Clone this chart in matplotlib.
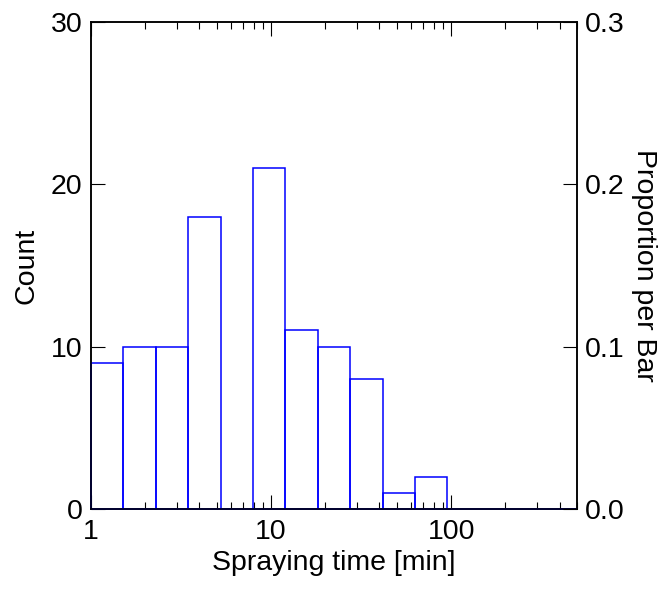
import numpy as np
import matplotlib
matplotlib.use("Agg")
import matplotlib.pyplot as plt
from matplotlib.ticker import LogLocator, FixedLocator, NullFormatter, FixedFormatter

plt.rcParams['font.family'] = ['Liberation Sans', 'DejaVu Sans']

# Histogram bin edges (15 log-spaced bins from 1 to 500 min)
bin_edges = [1.0, 1.513, 2.289, 3.466, 5.245, 7.937, 12.01, 18.18, 27.51,
             41.63, 63.00, 95.34, 144.3, 218.3, 330.4, 500.0]
counts = [9, 10, 10, 18, 0, 21, 11, 10, 8, 1, 2, 0, 0, 0, 0]
total = sum(counts)

x_ticks = [1, 10, 100]
x_ticklabels = ["1", "10", "100"]
y_ticks = [0, 10, 20, 30]
y2_ticks = [0.0, 0.1, 0.2, 0.3]

FS = 20.5
fig = plt.figure(figsize=(6.65, 5.92), dpi=100)
ax = fig.add_axes([91/665, 1 - 509/592, (577-91)/665, (509-22)/592])

lefts = np.array(bin_edges[:-1])
widths = np.diff(bin_edges)
ax.bar(lefts, counts, width=widths, align='edge', fill=False,
       edgecolor='#0000ff', linewidth=1.1, zorder=3, clip_on=False)

ax.set_xscale('log')
ax.set_xlim(1, 500)
ax.set_ylim(0, 30)
ax.xaxis.set_major_locator(FixedLocator(x_ticks))
ax.xaxis.set_major_formatter(FixedFormatter(x_ticklabels))
ax.xaxis.set_minor_locator(LogLocator(base=10, subs=np.arange(2, 10)))
ax.xaxis.set_minor_formatter(NullFormatter())
ax.set_yticks(y_ticks)
ax.set_yticklabels([str(v) for v in y_ticks])

ax.tick_params(axis='x', which='major', direction='in', length=10, width=0.8,
               top=True, bottom=True, labelsize=FS, pad=7)
ax.tick_params(axis='x', which='minor', direction='in', length=5, width=0.8,
               top=True, bottom=True)
ax.tick_params(axis='y', which='major', direction='in', length=10, width=0.8,
               left=True, right=False, labelsize=FS, pad=6)

for s in ax.spines.values():
    s.set_linewidth(1.1)

ax.set_xlabel("Spraying time [min]", fontsize=FS, labelpad=4)
ax.set_ylabel("Count", fontsize=FS, labelpad=8)

ax2 = ax.twinx()
ax2.set_ylim(0, 30 / total)
ax2.set_yticks(y2_ticks)
ax2.set_yticklabels([f"{v:.1f}" for v in y2_ticks])
ax2.tick_params(axis='y', which='major', direction='in', length=10, width=0.8,
                labelsize=FS, pad=6)
for s in ax2.spines.values():
    s.set_linewidth(1.1)
ax2.set_ylabel("Proportion per Bar", fontsize=FS, rotation=270, labelpad=23)

fig.savefig("out.png", dpi=100)
